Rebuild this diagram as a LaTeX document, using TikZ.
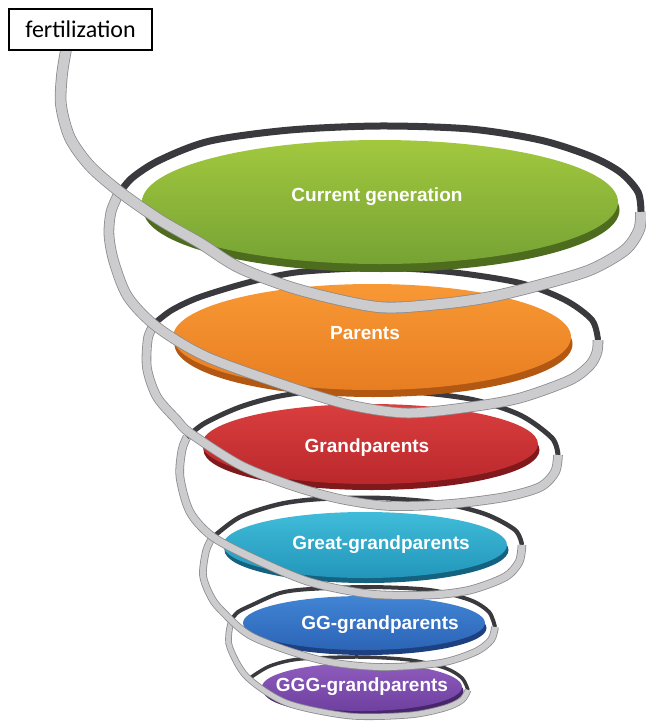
\documentclass[tikz,border=0pt]{standalone}
\usepackage{fontspec}
\newfontfamily\discfont{Liberation Sans}
\newfontfamily\boxfont{Carlito}

\definecolor{greenA}{RGB}{162,200,62}
\definecolor{greenB}{RGB}{118,163,52}
\definecolor{greenC}{RGB}{78,108,30}
\definecolor{orangeA}{RGB}{248,152,52}
\definecolor{orangeB}{RGB}{232,126,34}
\definecolor{orangeC}{RGB}{178,88,18}
\definecolor{redA}{RGB}{218,62,62}
\definecolor{redB}{RGB}{186,40,44}
\definecolor{redC}{RGB}{128,24,28}
\definecolor{tealA}{RGB}{64,188,218}
\definecolor{tealB}{RGB}{34,150,186}
\definecolor{tealC}{RGB}{20,98,128}
\definecolor{blueA}{RGB}{66,132,212}
\definecolor{blueB}{RGB}{44,100,182}
\definecolor{blueC}{RGB}{28,64,128}
\definecolor{purpleA}{RGB}{142,92,188}
\definecolor{purpleB}{RGB}{110,64,160}
\definecolor{purpleC}{RGB}{72,38,108}
\definecolor{ribbonlight}{RGB}{204,204,206}
\definecolor{ribbonedge}{RGB}{140,140,142}
\definecolor{ribbondark}{RGB}{58,58,62}

\tikzset{
  ribfront/.style={draw=ribbonlight, line width=#1,
    preaction={draw=ribbonedge, line width=#1+1.6pt}},
  ribback/.style={draw=ribbondark, line width=#1},
  gentext/.style={text=white, font=\discfont\bfseries\fontsize{19}{22}\selectfont},
}

% disc: cx, cy, rx, ry, rim, colour
\newcommand{\gendisc}[6]{%
  \fill[#6C] (#1+1.5,#2+#5) ellipse [x radius=#3, y radius=#4];
  \shade[top color=#6A, bottom color=#6B] (#1,#2) ellipse [x radius=#3, y radius=#4];}

\begin{document}
\begin{tikzpicture}[x=1pt,y=-1pt]
\useasboundingbox (0,0) rectangle (645,725);

% level 6
\draw[ribback=3.5pt] plot[smooth] coordinates {(468,690) (462,678) (445,668) (410,660) (360,657) (300,659) (270,666) (250,678)};
\gendisc{362}{687}{100}{24}{4}{purple}
\node[gentext] (ggg) at (362,687) {GGG-grandparents};
\draw[ribfront=5pt] plot[smooth] coordinates {(232,619) (229,632) (230,648) (247,677) (287,703) (350,716) (410,715) (445,708) (462,700) (468,690)};

% level 5
\draw[ribback=4pt] plot[smooth] coordinates {(495,627) (489,612) (470,600) (430,590) (370,587) (310,589) (280,593) (252,605) (238,612) (232,619)};
\gendisc{364}{623}{121}{27}{5}{blue}
\node[gentext] (gg) at (380,625) {GG-grandparents};
\draw[ribfront=6pt] plot[smooth] coordinates {(212,538) (206,551) (203,575) (210,595) (221,610) (253,637) (320,660) (380,667) (440,663) (475,652) (491,640) (495,627)};

% level 4
\draw[ribback=4.5pt] plot[smooth] coordinates {(522,545) (515,530) (485,514) (440,503) (380,498) (320,499) (280,504) (240,517) (212,538)};
\gendisc{365}{545}{142}{33}{5}{teal}
\node[gentext] (great) at (381,545) {Great-grandparents};
\draw[ribfront=7pt] plot[smooth] coordinates {(187,437) (182,450) (180,477) (190,512) (213,537) (257,560) (310,582) (370,594) (430,595) (470,590) (505,577) (519,562) (522,545)};

% level 3
\draw[ribback=5pt] plot[smooth] coordinates {(558,455) (552,438) (520,415) (470,399) (400,391) (330,390) (280,396) (240,407) (205,423) (187,437)};
\gendisc{370}{444}{168}{40}{6}{red}
\node[gentext] (grand) at (367,448) {Grandparents};
\draw[ribfront=8pt] plot[smooth] coordinates {(155,323) (148,338) (147,368) (157,397) (177,420) (190,433) (240,465) (290,485) (340,499) (390,506) (450,504) (505,497) (540,487) (555,472) (558,455)};

% level 2
\draw[ribback=6pt] plot[smooth] coordinates {(598,340) (592,320) (565,300) (520,283) (450,272) (380,268) (300,272) (250,282) (200,297) (172,310) (155,323)};
\gendisc{372}{337}{199}{53}{7}{orange}
\node[gentext] (par) at (365,333) {Parents};
\draw[ribfront=9pt] plot[smooth] coordinates {(118,195) (111,212) (109,235) (114,262) (128,297) (157,327) (207,357) (290,387) (350,405) (407,413) (470,407) (520,398) (570,380) (590,365) (597,352) (598,340)};

% level 1
\draw[ribback=7pt] plot[smooth] coordinates {(641,212) (638,192) (620,172) (590,156) (540,140) (470,129) (380,126) (290,130) (210,141) (160,160) (132,178) (118,195)};
\gendisc{380}{202}{238}{62}{8}{green}
\node[gentext] (cur) at (377,197) {Current generation};
\draw[ribfront=10pt] plot[smooth] coordinates {(66,50) (62,75) (61,105) (70,138) (90,166) (120,192) (160,220) (200,243) (240,268) (300,290) (378,307) (440,304) (490,297) (540,285) (590,270) (625,250) (639,230) (641,212)};

% start box
\node[draw=black, line width=2pt, fill=white, inner sep=0pt,
  minimum width=143pt, minimum height=41pt,
  font=\boxfont\fontsize{24}{28}\selectfont] (fert) at (80.5,29.5) {fertilization};
\end{tikzpicture}
\end{document}
